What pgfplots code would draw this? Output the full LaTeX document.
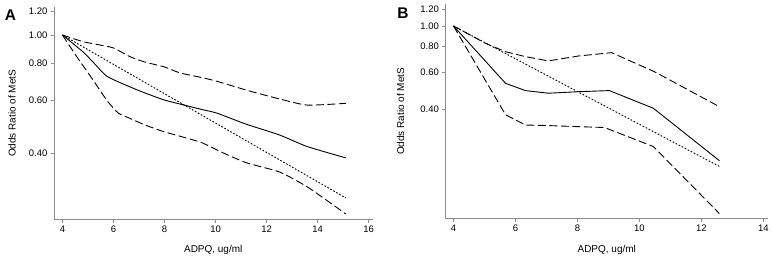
\documentclass[border=0pt]{standalone}
\usepackage{pgfplots}
\pgfplotsset{compat=1.18}
\usepackage{fontspec}
\setmainfont{Liberation Sans}
\tikzset{
  solidl/.style={black, line width=0.9pt},
  dashl/.style={black, line width=0.9pt, dash pattern=on 8pt off 3.5pt},
  dotl/.style={black, line width=0.9pt, dash pattern=on 1.7pt off 1.7pt},
}
\begin{document}
\begin{tikzpicture}[x=1pt,y=1pt]
\path (0,0) rectangle (772,260);
\node[font=\fontsize{15.5}{16}\selectfont\bfseries] at (10.5,245) {A};
\node[font=\fontsize{15.5}{16}\selectfont\bfseries] at (403.5,247) {B};
\begin{axis}[
  ymode=log,
  scale only axis,
  anchor=south west,
  at={(54pt,40pt)}, width=319pt, height=213pt,
  xmin=3.667, xmax=16.15, ymin=0.238, ymax=1.243,
  xtick={4,6,8,10,12,14,16},
  axis x line=bottom, axis y line=left,
  axis line style={-, draw=black!45, line width=0.8pt},
  tick style={draw=black!45, line width=0.8pt},
  tick align=outside,
  major tick length=3pt,
  ytick={0.4,0.6,0.8,1.0,1.2},
  yticklabels={0.40,0.60,0.80,1.00,1.20},
  /pgf/number format/assume math mode=true,
  ticklabel style={font=\fontsize{9.5}{11}\selectfont},
  label style={font=\fontsize{9.5}{11}\selectfont},
  xlabel={ADPQ, ug/ml},
  ylabel={Odds Ratio of MetS},
  every axis x label/.style={at={(axis description cs:0.5,0)},yshift=-30pt,anchor=center},
  every axis y label/.style={at={(axis description cs:-0.1317,0.5)},rotate=90,anchor=center},
  clip=false,
]
\addplot[dashl, smooth, tension=0.35] coordinates {(4,1.0) (4.8,0.95) (5.47,0.925) (6.0,0.904) (6.65,0.845) (7.24,0.81) (8,0.78) (8.6,0.745) (9.4,0.72) (10.0,0.70) (11.25,0.65) (12.55,0.607) (13.6,0.58) (15.1,0.588)};
\addplot[dashl, smooth, tension=0.35] coordinates {(4,1.0) (4.56,0.845) (5.2,0.705) (5.75,0.60) (6.18,0.546) (6.6,0.525) (7.24,0.497) (8,0.471) (9.4,0.435) (10.3,0.40) (11.23,0.37) (12.5,0.345) (13.6,0.307) (15.1,0.249)};
\addplot[solidl, smooth, tension=0.35] coordinates {(4,1.0) (4.8,0.878) (5.2,0.81) (5.75,0.725) (6.65,0.668) (7.24,0.637) (8,0.603) (8.6,0.585) (9.4,0.562) (10.05,0.545) (11.2,0.50) (12.5,0.46) (13.6,0.42) (15.1,0.385)};
\addplot[dotl] coordinates {(4,1.0) (9.55,0.531) (15.1,0.282)};
\end{axis}
\begin{axis}[
  ymode=log,
  scale only axis,
  anchor=south west,
  at={(446pt,41pt)}, width=323pt, height=215pt,
  xmin=3.74, xmax=14.15, ymin=0.119, ymax=1.275,
  xtick={4,6,8,10,12,14},
  axis x line=bottom, axis y line=left,
  axis line style={-, draw=black!45, line width=0.8pt},
  tick style={draw=black!45, line width=0.8pt},
  tick align=outside,
  major tick length=3pt,
  ytick={0.4,0.6,0.8,1.0,1.2},
  yticklabels={0.40,0.60,0.80,1.00,1.20},
  /pgf/number format/assume math mode=true,
  ticklabel style={font=\fontsize{9.5}{11}\selectfont},
  label style={font=\fontsize{9.5}{11}\selectfont},
  xlabel={ADPQ, ug/ml},
  ylabel={Odds Ratio of MetS},
  every axis x label/.style={at={(axis description cs:0.5,0)},yshift=-31pt,anchor=center},
  every axis y label/.style={at={(axis description cs:-0.139,0.5)},rotate=90,anchor=center},
  clip=false,
]
\addplot[dashl] coordinates {(4,1.0) (5.03,0.826) (5.68,0.753) (6.32,0.713) (7.06,0.68) (8.03,0.718) (9.1,0.745) (10.48,0.604) (12.58,0.41)};
\addplot[solidl] coordinates {(4,1.0) (5.68,0.531) (6.32,0.49) (7.06,0.476) (8.03,0.484) (9.03,0.49) (10.45,0.403) (12.58,0.226)};
\addplot[dashl] coordinates {(4,1.0) (5.68,0.375) (6.32,0.335) (7.06,0.333) (8.03,0.329) (8.87,0.326) (10.45,0.264) (12.58,0.126)};
\addplot[dotl] coordinates {(4,1.0) (8.29,0.460) (12.58,0.212)};
\end{axis}
\end{tikzpicture}
\end{document}
